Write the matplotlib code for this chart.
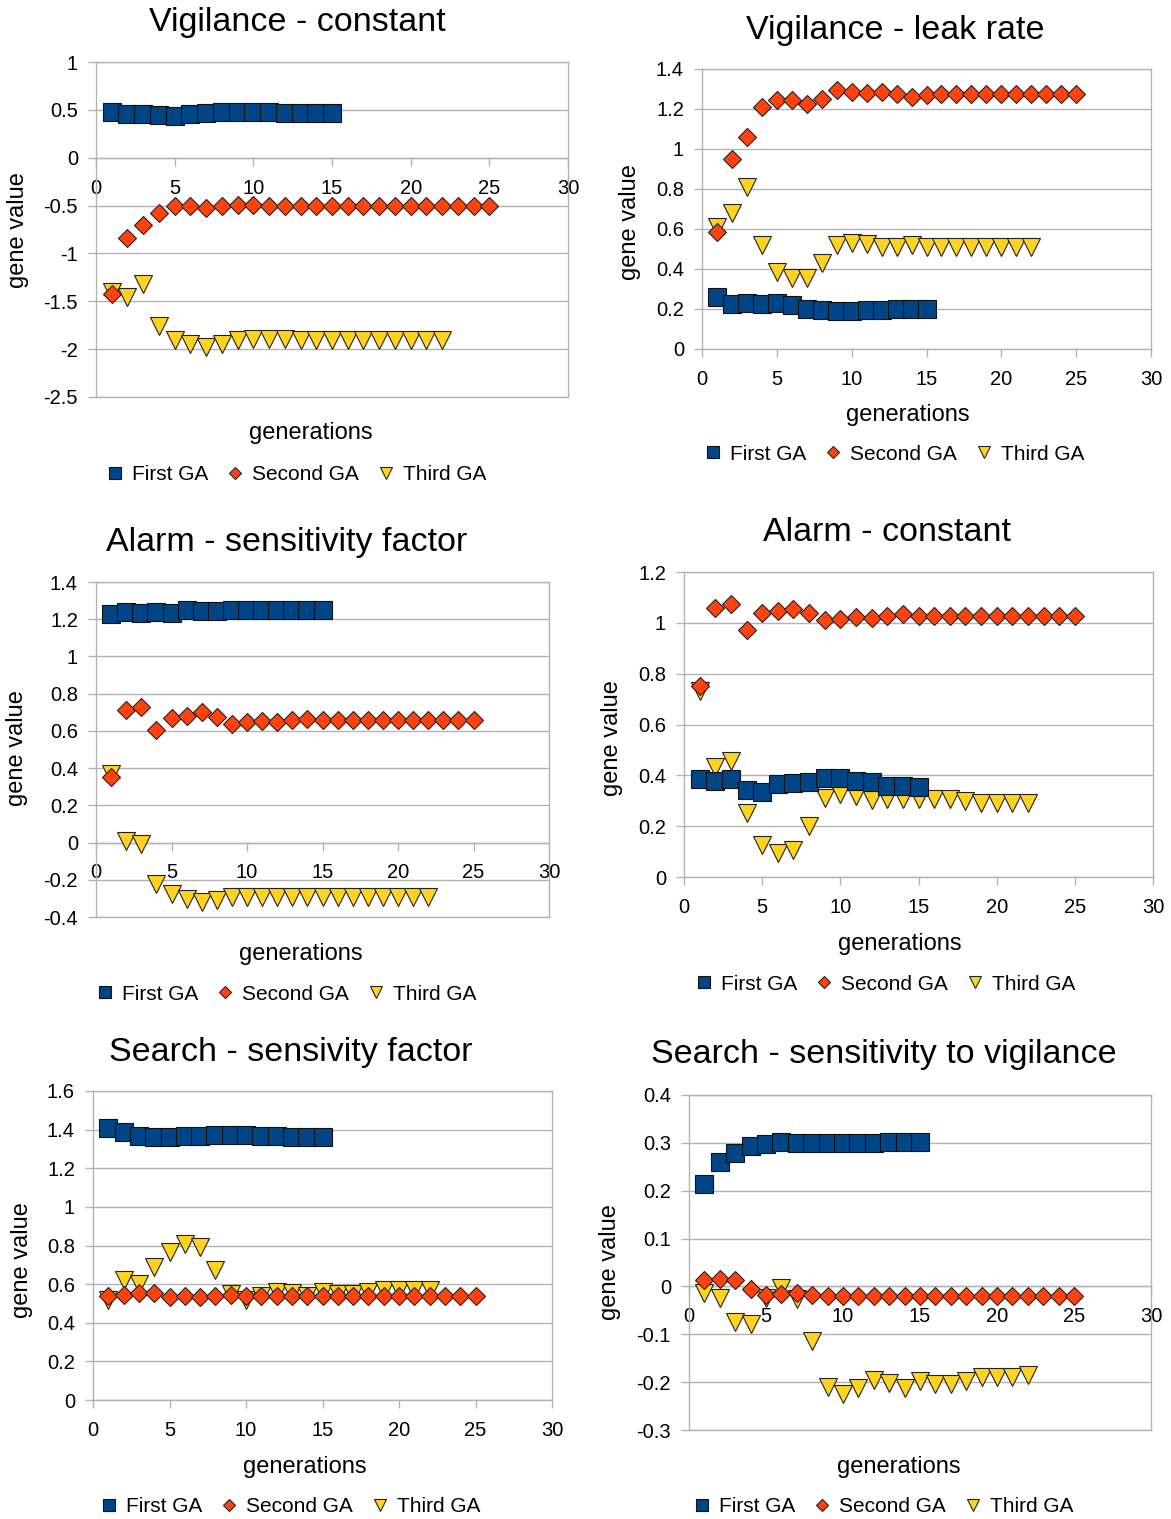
import matplotlib.pyplot as plt
from matplotlib.ticker import FuncFormatter, MultipleLocator

plt.rcParams['font.family'] = ['Liberation Sans', 'DejaVu Sans']
plt.rcParams['axes.unicode_minus'] = False

W, H = 1171, 1519

first_gen = list(range(1, 16))
second_gen = list(range(1, 26))
third_gen = list(range(1, 23))

# Vigilance - constant
vig_const_first = [0.48, 0.46, 0.46, 0.45, 0.44, 0.455, 0.47, 0.475, 0.48, 0.48,
                   0.475, 0.47, 0.47, 0.47, 0.47]
vig_const_second = [-1.42, -0.84, -0.70, -0.58, -0.50, -0.50, -0.53, -0.50, -0.49, -0.49,
                    -0.50, -0.50, -0.50, -0.50, -0.50, -0.50, -0.50, -0.50, -0.50, -0.50,
                    -0.50, -0.50, -0.50, -0.50, -0.50]
vig_const_third = [-1.40, -1.46, -1.32, -1.76, -1.90, -1.95, -1.98, -1.95, -1.90, -1.89,
                   -1.89, -1.89, -1.90, -1.90, -1.90, -1.90, -1.90, -1.90, -1.90, -1.90,
                   -1.90, -1.90]

# Vigilance - leak rate
vig_leak_first = [0.258, 0.227, 0.23, 0.227, 0.23, 0.218, 0.198, 0.195, 0.19, 0.19,
                  0.193, 0.193, 0.2, 0.2, 0.2]
vig_leak_second = [0.587, 0.948, 1.06, 1.208, 1.247, 1.245, 1.225, 1.25, 1.297, 1.287,
                   1.28, 1.287, 1.273, 1.26, 1.27, 1.275, 1.275, 1.275, 1.275, 1.275,
                   1.275, 1.275, 1.275, 1.275, 1.275]
vig_leak_third = [0.608, 0.678, 0.808, 0.52, 0.387, 0.353, 0.353, 0.43, 0.52, 0.532,
                  0.525, 0.51, 0.512, 0.518, 0.51, 0.508, 0.508, 0.508, 0.508, 0.508,
                  0.508, 0.508]

# Alarm - sensitivity factor
alarm_sens_first = [1.227, 1.238, 1.232, 1.238, 1.236, 1.249, 1.245, 1.245, 1.249, 1.247,
                    1.247, 1.247, 1.247, 1.247, 1.247]
alarm_sens_second = [0.352, 0.71, 0.73, 0.607, 0.671, 0.682, 0.701, 0.673, 0.637, 0.646,
                     0.653, 0.647, 0.66, 0.666, 0.657, 0.657, 0.657, 0.657, 0.657, 0.657,
                     0.657, 0.657, 0.657, 0.657, 0.657]
alarm_sens_third = [0.37, 0.01, -0.007, -0.222, -0.279, -0.303, -0.32, -0.308, -0.292, -0.295,
                    -0.295, -0.295, -0.295, -0.295, -0.295, -0.295, -0.295, -0.295, -0.295,
                    -0.295, -0.295, -0.295]

# Alarm - constant
alarm_const_first = [0.385, 0.379, 0.386, 0.344, 0.334, 0.365, 0.369, 0.373, 0.389, 0.39,
                     0.377, 0.373, 0.357, 0.357, 0.356]
alarm_const_second = [0.751, 1.059, 1.074, 0.97, 1.037, 1.046, 1.056, 1.037, 1.01, 1.017,
                      1.021, 1.02, 1.026, 1.033, 1.025, 1.025, 1.025, 1.025, 1.025, 1.025,
                      1.025, 1.025, 1.025, 1.025, 1.025]
alarm_const_third = [0.73, 0.433, 0.458, 0.25, 0.126, 0.094, 0.105, 0.201, 0.311, 0.328,
                     0.319, 0.301, 0.306, 0.306, 0.305, 0.308, 0.306, 0.298, 0.293, 0.293,
                     0.293, 0.293]

# Search - sensivity factor
search_sens_first = [1.409, 1.386, 1.369, 1.364, 1.364, 1.366, 1.369, 1.371, 1.373, 1.374,
                     1.367, 1.366, 1.36, 1.362, 1.362]
search_sens_second = [0.541, 0.545, 0.553, 0.552, 0.534, 0.538, 0.531, 0.536, 0.545, 0.541,
                      0.538, 0.538, 0.538, 0.538, 0.538, 0.538, 0.538, 0.538, 0.538, 0.538,
                      0.538, 0.538, 0.538, 0.538, 0.538]
search_sens_third = [0.517, 0.62, 0.602, 0.691, 0.767, 0.81, 0.793, 0.674, 0.55, 0.52,
                     0.538, 0.559, 0.555, 0.538, 0.559, 0.55, 0.55, 0.559, 0.567, 0.567,
                     0.567, 0.57]

# Search - sensitivity to vigilance
search_vig_first = [0.213, 0.261, 0.278, 0.294, 0.298, 0.301, 0.3, 0.3, 0.3, 0.3,
                    0.3, 0.3, 0.302, 0.302, 0.302]
search_vig_second = [0.013, 0.015, 0.014, -0.006, -0.017, -0.015, -0.014, -0.017, -0.021, -0.02,
                     -0.02, -0.02, -0.02, -0.02, -0.02, -0.02, -0.02, -0.02, -0.02, -0.02,
                     -0.02, -0.02, -0.02, -0.02, -0.02]
search_vig_third = [-0.014, -0.025, -0.075, -0.078, -0.024, -0.004, -0.027, -0.113, -0.21, -0.224,
                    -0.213, -0.195, -0.201, -0.213, -0.197, -0.204, -0.204, -0.197, -0.189, -0.189,
                    -0.189, -0.186]

BLUE, ORANGE, YELLOW = '#004586', '#ff420e', '#ffd320'
GRID = '#b3b3b3'

# title, series, (ymin, ymax, step), axes box in px (l, t, r, b),
# title xy, xlabel xy, ylabel xy, legend xy
panels = [
    ("Vigilance - constant",
     (vig_const_first, vig_const_second, vig_const_third), (-2.5, 1, 0.5),
     (96, 62, 568, 397), (297, 23), (311, 433), (18, 230), (297, 475)),
    ("Vigilance - leak rate",
     (vig_leak_first, vig_leak_second, vig_leak_third), (0, 1.4, 0.2),
     (702, 69, 1151, 349), (895, 31), (908, 415), (630, 222), (895, 454)),
    ("Alarm - sensitivity factor",
     (alarm_sens_first, alarm_sens_second, alarm_sens_third), (-0.4, 1.4, 0.2),
     (96, 582, 549, 917), (287, 542), (301, 954), (17, 748), (287, 994)),
    ("Alarm - constant",
     (alarm_const_first, alarm_const_second, alarm_const_third), (0, 1.2, 0.2),
     (684, 572, 1153, 877), (887, 532), (900, 944), (612, 738), (886, 984)),
    ("Search - sensivity factor",
     (search_sens_first, search_sens_second, search_sens_third), (0, 1.6, 0.2),
     (93, 1091, 552, 1400), (291, 1052), (305, 1467), (22, 1260), (291, 1507)),
    ("Search - sensitivity to vigilance",
     (search_vig_first, search_vig_second, search_vig_third), (-0.3, 0.4, 0.1),
     (689, 1095, 1151, 1430), (884, 1055), (899, 1467), (610, 1262), (884, 1507)),
]

fig = plt.figure(figsize=(W / 100, H / 100), dpi=100)


def fx(x):
    return x / W


def fy(y):
    return 1 - y / H


for title, (s1, s2, s3), (ymin, ymax, step), box, t_xy, xl_xy, yl_xy, lg_xy in panels:
    l, t, r, b = box
    ax = fig.add_axes([fx(l), fy(b), (r - l) / W, (b - t) / H])
    ax.set_axisbelow(True)

    h3, = ax.plot(third_gen, s3, linestyle='none', marker='v', ms=13,
                  mfc=YELLOW, mec='#222222', mew=0.8, zorder=3, label='Third GA')
    h2, = ax.plot(second_gen, s2, linestyle='none', marker='D', ms=8.8,
                  mfc=ORANGE, mec='#222222', mew=0.8, zorder=4, label='Second GA')
    h1, = ax.plot(first_gen, s1, linestyle='none', marker='s', ms=13,
                  mfc=BLUE, mec='#111111', mew=0.8, zorder=5, label='First GA')

    ax.set_xlim(0, 30)
    ax.set_ylim(ymin, ymax)
    ax.xaxis.set_major_locator(MultipleLocator(5))
    ax.yaxis.set_major_locator(MultipleLocator(step))
    ax.yaxis.set_major_formatter(FuncFormatter(lambda v, p: f'{round(v, 6):g}'))
    ax.grid(axis='y', color=GRID, lw=1)
    for sp in ax.spines.values():
        sp.set_color(GRID)
        sp.set_linewidth(1)
    if ymin < 0:
        # x axis crosses at zero, keep a plain frame line at the bottom
        ax.spines['bottom'].set_position(('data', 0))
        ax.axhline(ymin, color=GRID, lw=1, clip_on=False, zorder=1)
    ax.tick_params(axis='both', direction='out', length=6, width=1, color=GRID,
                   labelsize=14.5)
    ax.tick_params(axis='x', pad=9)
    ax.tick_params(axis='y', pad=7)

    fig.text(fx(t_xy[0]), fy(t_xy[1]), title, ha='center', va='center', fontsize=24.5)
    fig.text(fx(xl_xy[0]), fy(xl_xy[1]), 'generations', ha='center', va='center',
             fontsize=17)
    fig.text(fx(yl_xy[0]), fy(yl_xy[1]), 'gene value', ha='center', va='center',
             fontsize=17, rotation=90)
    fig.legend([h1, h2, h3], ['First GA', 'Second GA', 'Third GA'], loc='center',
               bbox_to_anchor=(fx(lg_xy[0]), fy(lg_xy[1])), ncol=3, frameon=False,
               fontsize=15, markerscale=0.65, numpoints=1, handlelength=0.7,
               handletextpad=0.45, columnspacing=0.95)

fig.savefig('out.png', dpi=100)
